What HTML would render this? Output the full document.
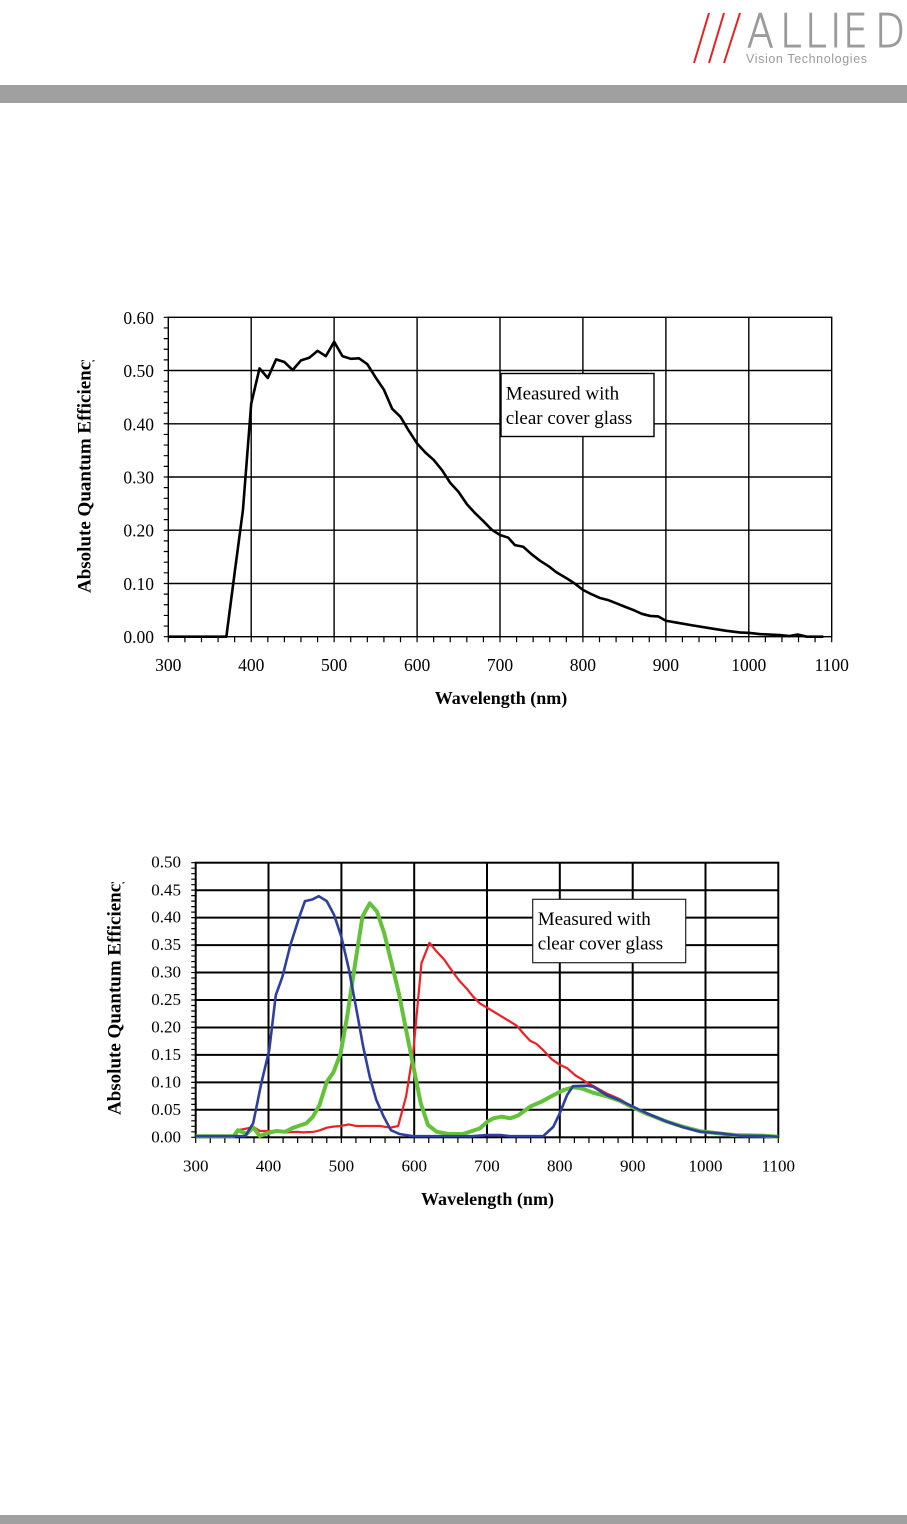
<!DOCTYPE html>
<html><head><meta charset="utf-8"><style>
html,body{margin:0;padding:0;background:#fff;}
svg{display:block;}
</style></head><body>
<svg width="907" height="1524" viewBox="0 0 907 1524" xmlns="http://www.w3.org/2000/svg">
<defs>
<clipPath id="c1"><rect x="60" y="360" width="50" height="260"/></clipPath>
<clipPath id="c2"><rect x="90" y="882" width="50" height="260"/></clipPath>
</defs>
<rect x="0" y="0" width="907" height="1524" fill="#fff"/>
<!-- header -->
<g stroke="#e02424" stroke-width="2">
<line x1="694" y1="63" x2="709" y2="13"/>
<line x1="709" y1="63" x2="724" y2="13"/>
<line x1="724" y1="63" x2="740" y2="13"/>
</g>
<g transform="translate(747 47) scale(0.85 1)" fill="#9b9b9b" stroke="#9b9b9b" stroke-width="1" font-family="DejaVu Sans, Liberation Sans, sans-serif" font-weight="200" font-size="46">
<text x="0">A</text><text x="38.8">L</text><text x="68.2">L</text><text x="97.6">I</text><text x="112.9">E</text><text x="150.6">D</text>
</g>
<text x="746" y="63" font-family="Liberation Sans, sans-serif" font-size="12.5" fill="#9b9b9b" textLength="121" lengthAdjust="spacing">Vision Technologies</text>
<rect x="0" y="85" width="907" height="18" fill="#a0a0a0"/>
<rect x="0" y="1515" width="907" height="9" fill="#a0a0a0"/>

<!-- CHART 1 -->
<g stroke="#000" stroke-width="1.4" fill="none">
<rect x="168.3" y="317.3" width="663.4" height="319.4"/>
<path d="M251.2 317.3V636.7M334.1 317.3V636.7M417.1 317.3V636.7M500 317.3V636.7M582.9 317.3V636.7M665.9 317.3V636.7M748.8 317.3V636.7M168.3 583.5H831.7M168.3 530.2H831.7M168.3 477H831.7M168.3 423.8H831.7M168.3 370.5H831.7"/>
</g>
<line x1="166" y1="316.7" x2="166" y2="638" stroke="#000" stroke-width="4.5" stroke-dasharray="1.2 9.447"/>
<line x1="167.7" y1="639.5" x2="833" y2="639.5" stroke="#000" stroke-width="5.5" stroke-dasharray="1.2 15.385"/>
<g transform="translate(168.3 636.7) scale(0.82925 -532.33)">
<polyline fill="none" stroke="#000" stroke-width="2.6" stroke-linejoin="round" vector-effect="non-scaling-stroke" points="0,0 70,0 80,.12 90,.238 100,.438 110,.504 120,.486 130,.521 140,.516 150,.501 160,.519 170,.524 180,.537 190,.527 200,.554 210,.527 220,.522 230,.523 240,.512 250,.487 260,.464 270,.428 280,.413 290,.387 300,.363 310,.346 320,.332 330,.313 340,.289 350,.272 360,.249 370,.232 380,.217 390,.201 400,.191 410,.186 418,.172 428,.169 438,.155 448,.143 459,.132 468,.121 480,.110 490,.100 500,.088 510,.080 520,.073 530,.069 540,.063 551,.056 561,.050 571,.043 581,.039 591,.038 600,.030 611,.027 633,.021 653,.016 673,.011 689,.008 701,.007 713,.005 737,.003 749,.0013 759,.004 770,0 790,0"/>
</g>
<rect x="501" y="373.5" width="153" height="63" fill="#fff" stroke="#000" stroke-width="1.4"/>
<g font-family="Liberation Serif, serif" font-size="19" fill="#000">
<text x="505.7" y="399.3">Measured with</text>
<text x="505.7" y="424">clear cover glass</text>
</g>
<g font-family="Liberation Serif, serif" font-size="17.5" fill="#000" text-anchor="end">
<text x="154" y="643.2">0.00</text><text x="154" y="590">0.10</text><text x="154" y="536.7">0.20</text><text x="154" y="483.5">0.30</text><text x="154" y="430.3">0.40</text><text x="154" y="377">0.50</text><text x="154" y="323.8">0.60</text>
</g>
<g font-family="Liberation Serif, serif" font-size="17.5" fill="#000" text-anchor="middle">
<text x="168.3" y="671">300</text><text x="251.2" y="671">400</text><text x="334.1" y="671">500</text><text x="417.1" y="671">600</text><text x="500" y="671">700</text><text x="582.9" y="671">800</text><text x="665.9" y="671">900</text><text x="748.8" y="671">1000</text><text x="831.7" y="671">1100</text>
</g>
<text x="501" y="704" font-family="Liberation Serif, serif" font-weight="bold" font-size="18" text-anchor="middle">Wavelength (nm)</text>
<g clip-path="url(#c1)"><text transform="translate(90.7 593) rotate(-90)" font-family="Liberation Serif, serif" font-weight="bold" font-size="19">Absolute Quantum Efficiency</text></g>

<!-- CHART 2 -->
<g stroke="#000" stroke-width="2" fill="none">
<rect x="195.7" y="862.7" width="582.6" height="274.6"/>
<path d="M268.5 862.7V1137.3M341.4 862.7V1137.3M414.2 862.7V1137.3M487 862.7V1137.3M559.8 862.7V1137.3M632.7 862.7V1137.3M705.5 862.7V1137.3M195.7 1109.8H778.3M195.7 1082.4H778.3M195.7 1054.9H778.3M195.7 1027.5H778.3M195.7 1000H778.3M195.7 972.5H778.3M195.7 945.1H778.3M195.7 917.6H778.3M195.7 890.2H778.3"/>
</g>
<line x1="193.5" y1="862.1" x2="193.5" y2="1138.5" stroke="#000" stroke-width="4.5" stroke-dasharray="1.2 4.292"/>
<line x1="195.1" y1="1140.2" x2="780" y2="1140.2" stroke="#000" stroke-width="5.5" stroke-dasharray="1.2 13.365"/>
<g transform="translate(195.7 1137.3) scale(0.72825 -549.2)" fill="none" stroke-linejoin="round">
<polyline stroke="#ec2027" stroke-width="2.2" vector-effect="non-scaling-stroke" points="0,.002 55,.002 58,.013 70,.016 79,.019 88,.0115 100,.0115 111,.0105 125,.009 139,.010 148,.009 162,.010 170,.0125 180,.0175 189,.0194 199,.0206 210,.0235 220,.0206 253,.0206 267,.0175 278,.0206 289,.075 299,.159 310,.317 321,.354 331,.338 341,.324 352,.303 362,.285 372,.271 381,.256 390,.244 400,.236 409,.229 420,.220 432,.2105 441,.203 450,.189 459,.176 468,.170 477,.159 489,.142 500,.132 510,.126 521,.113 530,.106 539,.098 548,.092 564,.080 583,.069 600,.055 619,.044 647,.029 670,.018 693,.010 720,.007 747,.003 779,.002 800,.001"/>
<polyline stroke="#63c23a" stroke-width="4" vector-effect="non-scaling-stroke" points="0,.002 52,.002 58,.013 70,.006 79,.018 88,.0024 100,.0084 111,.0115 123,.010 134,.0175 145,.0224 152,.0255 161,.0375 170,.0588 180,.101 189,.118 199,.153 208,.22 218,.308 229,.402 239,.426 249,.411 259,.371 269,.317 279,.262 289,.195 299,.1285 309,.062 319,.0224 331,.010 347,.006 367,.006 390,.016 400,.028 409,.0346 420,.0375 432,.0346 443,.040 459,.0557 475,.065 489,.0752 505,.086 518,.091 530,.089 546,.081 564,.075 583,.066 600,.0546 619,.043 647,.0285 670,.019 693,.011 720,.007 740,.004 779,.003 800,.001"/>
<polyline stroke="#2f3f9f" stroke-width="2.6" vector-effect="non-scaling-stroke" points="0,.002 68,.002 79,.026 90,.098 101,.159 110,.259 119,.292 130,.350 142,.400 150,.430 160,.433 169,.439 180,.430 190,.405 200,.365 210,.308 220,.238 230,.165 239,.110 248,.068 258,.038 268,.013 280,.006 298,.002 380,.002 400,.004 420,.004 432,.002 477,.002 491,.019 500,.044 510,.077 518,.093 537,.094 546,.092 564,.077 583,.067 600,.056 619,.044 647,.0285 670,.018 693,.010 720,.0073 747,.003 779,.0024 800,.001"/>
</g>
<rect x="532.7" y="899.3" width="153" height="63.4" fill="#fff" stroke="#222" stroke-width="1.2"/>
<g font-family="Liberation Serif, serif" font-size="19" fill="#000">
<text x="537.7" y="925" textLength="113" lengthAdjust="spacing">Measured with</text>
<text x="537.7" y="949.3" textLength="125.5" lengthAdjust="spacing">clear cover glass</text>
</g>
<g font-family="Liberation Serif, serif" font-size="17" fill="#000" text-anchor="end">
<text x="181" y="1142.5">0.00</text><text x="181" y="1115">0.05</text><text x="181" y="1087.5">0.10</text><text x="181" y="1060">0.15</text><text x="181" y="1032.6">0.20</text><text x="181" y="1005.1">0.25</text><text x="181" y="977.6">0.30</text><text x="181" y="950.2">0.35</text><text x="181" y="922.7">0.40</text><text x="181" y="895.3">0.45</text><text x="181" y="867.7">0.50</text>
</g>
<g font-family="Liberation Serif, serif" font-size="17" fill="#000" text-anchor="middle">
<text x="195.7" y="1171.5">300</text><text x="268.5" y="1171.5">400</text><text x="341.4" y="1171.5">500</text><text x="414.2" y="1171.5">600</text><text x="487" y="1171.5">700</text><text x="559.8" y="1171.5">800</text><text x="632.7" y="1171.5">900</text><text x="705.5" y="1171.5">1000</text><text x="778.3" y="1171.5">1100</text>
</g>
<text x="487.5" y="1205" font-family="Liberation Serif, serif" font-weight="bold" font-size="18" text-anchor="middle" textLength="133" lengthAdjust="spacing">Wavelength (nm)</text>
<g clip-path="url(#c2)"><text transform="translate(120.3 1115) rotate(-90)" font-family="Liberation Serif, serif" font-weight="bold" font-size="19">Absolute Quantum Efficiency</text></g>
</svg>
</body></html>
